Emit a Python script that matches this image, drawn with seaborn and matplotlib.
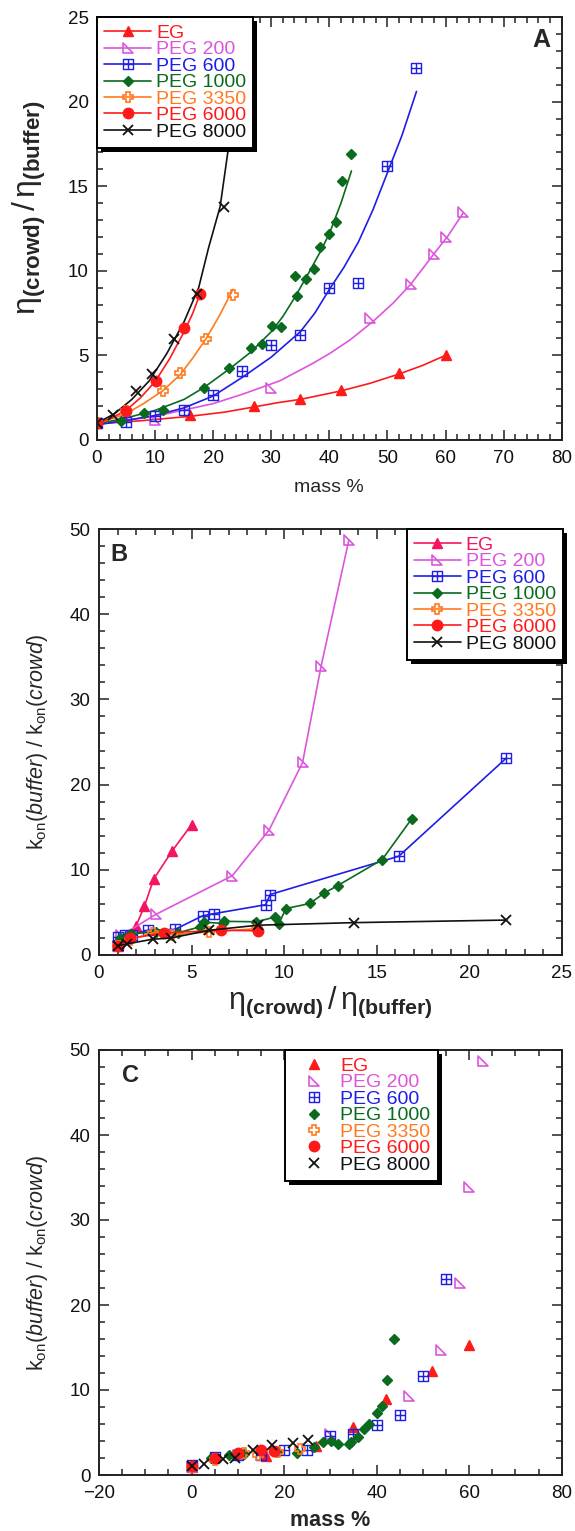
import matplotlib
matplotlib.use("Agg")
import matplotlib.pyplot as plt
import seaborn as sns
from matplotlib.path import Path
from matplotlib.lines import Line2D
from matplotlib.patches import Rectangle
from matplotlib.transforms import IdentityTransform
from matplotlib.ticker import MultipleLocator

# ---------------- data ----------------
names = ["EG", "PEG 200", "PEG 600", "PEG 1000", "PEG 3350", "PEG 6000", "PEG 8000"]

# mass %, relative viscosity, relative association rate
eg_mass = [0, 16, 27, 35, 42, 52, 60]
eg_eta = [1.0, 1.45, 2.0, 2.45, 2.95, 3.95, 5.0]
eg_kon = [1.0, 2.2, 3.4, 5.7, 8.9, 12.2, 15.3]

p200_mass = [0, 10, 30, 47, 54, 58, 60, 63]
p200_eta = [1.0, 1.2, 3.1, 7.2, 9.2, 11.0, 12.0, 13.5]
p200_kon = [1.0, 2.3, 4.8, 9.3, 14.7, 22.6, 33.9, 48.7]

p600_mass = [0, 5, 10, 15, 20, 25, 30, 35, 40, 45, 50, 55]
p600_eta = [1.0, 1.05, 1.4, 1.8, 2.65, 4.1, 5.6, 6.2, 9.0, 9.25, 16.2, 22.0]
p600_kon = [1.2, 2.15, 2.4, 2.4, 2.9, 3.0, 4.6, 4.85, 5.9, 7.1, 11.6, 23.1]

p1000_mass = [0, 4.1, 8.1, 11.4, 18.4, 22.8, 26.5, 28.4, 30.1, 31.7, 34.1, 34.4,
              36, 37.3, 38.4, 40, 41.2, 42.2, 43.8]
p1000_eta = [1.0, 1.15, 1.6, 1.75, 3.1, 4.25, 5.45, 5.7, 6.75, 6.7, 9.7, 8.5,
             9.5, 10.1, 11.4, 12.15, 12.9, 15.3, 16.9]
p1000_kon = [1.0, 2.0, 2.35, 2.5, 2.7, 2.6, 3.3, 3.85, 3.95, 3.7, 3.6, 3.9,
             4.45, 5.45, 6.05, 7.25, 8.15, 11.2, 16.0]

p3350_mass = [0, 5, 11.3, 14.3, 18.7, 23.4]
p3350_eta = [1.0, 1.7, 2.9, 3.95, 5.95, 8.55]
p3350_kon = [1.0, 1.8, 2.6, 2.4, 2.7, 3.1]

p6000_mass = [0, 5, 10.1, 15, 17.8]
p6000_eta = [1.0, 1.7, 3.5, 6.6, 8.6]
p6000_kon = [1.05, 1.95, 2.6, 2.9, 2.85]

p8000_mass = [0, 2.8, 6.8, 9.4, 13.2, 17.3, 21.9, 25.2]
p8000_eta = [1.0, 1.5, 2.9, 3.9, 5.95, 8.6, 13.8, 22.0]
p8000_kon = [1.1, 1.3, 1.85, 2.0, 2.9, 3.5, 3.8, 4.1]

# fitted viscosity curves (mass %, relative viscosity)
eg_fit_x = [0, 8, 16, 22, 27, 31, 35, 42, 47, 52, 56, 60]
eg_fit_y = [0.95, 1.15, 1.4, 1.65, 1.95, 2.2, 2.4, 2.9, 3.35, 3.9, 4.4, 5.0]
p200_fit_x = [0, 10, 20, 25, 31.5, 37, 40, 43.5, 47.5, 51, 54, 58, 60.5, 63]
p200_fit_y = [0.95, 1.4, 2.15, 2.7, 3.5, 4.5, 5.1, 5.9, 7.0, 8.1, 9.2, 11.0, 12.1, 13.4]
p600_fit_x = [0, 5, 10, 15, 20, 25, 30, 35, 37.5, 40, 42.5, 45, 47.5, 50, 52.5, 55]
p600_fit_y = [0.9, 1.15, 1.45, 1.9, 2.6, 3.7, 4.9, 6.4, 7.5, 8.9, 10.2, 11.7,
              13.6, 15.8, 18.0, 20.6]
p1000_fit_x = [0, 5, 10, 15, 18.4, 22.8, 26.5, 30, 32, 34, 36, 38.4, 40, 42, 43.8]
p1000_fit_y = [0.95, 1.3, 1.75, 2.4, 3.1, 4.2, 5.2, 6.4, 7.3, 8.4, 9.6, 11.1, 12.2,
               14.0, 15.9]
p3350_fit_x = [0, 5, 8, 11.3, 14.3, 16.5, 18.7, 21, 23.4]
p3350_fit_y = [0.95, 1.55, 2.15, 2.9, 3.85, 4.85, 5.95, 7.3, 8.9]
p6000_fit_x = [0, 2.5, 5, 7.5, 10, 12.5, 15, 16.5, 17.8]
p6000_fit_y = [0.95, 1.3, 1.75, 2.5, 3.45, 4.8, 6.4, 7.5, 8.7]
p8000_fit_x = [0, 3, 6, 9, 12, 15, 17.5, 19.2, 21.2, 22.6, 24, 25.3]
p8000_fit_y = [1.0, 1.55, 2.4, 3.5, 5.1, 7.0, 9.0, 11.35, 13.8, 17.2, 20.5, 24.5]

# ---------------- style ----------------
sns.set_theme(style="ticks")
plt.rcParams["font.family"] = ["Liberation Sans", "DejaVu Sans"]
plt.rcParams["mathtext.fontset"] = "custom"
plt.rcParams["mathtext.rm"] = "Liberation Sans"
plt.rcParams["mathtext.it"] = "Liberation Sans:italic"
plt.rcParams["mathtext.bf"] = "Liberation Sans:bold"
plt.rcParams["axes.edgecolor"] = "#222222"

right_tri = Path([(-1, 1), (-1, -1), (1, -1), (-1, 1)],
                 [Path.MOVETO, Path.LINETO, Path.LINETO, Path.CLOSEPOLY])
box_plus = Path([(-1, -1), (1, -1), (1, 1), (-1, 1), (-1, -1),
                 (0, -1), (0, 1), (-1, 0), (1, 0)],
                [Path.MOVETO, Path.LINETO, Path.LINETO, Path.LINETO, Path.CLOSEPOLY,
                 Path.MOVETO, Path.LINETO, Path.MOVETO, Path.LINETO])

RED = "#FF1A1A"
PINK = "#F5145F"
VIOLET = "#DD55DD"
BLUE = "#1E1EE6"
GREEN = "#0A6A1E"
ORANGE = "#FF7A1E"
BLACK = "#111111"

series = [
    dict(mass=eg_mass, eta=eg_eta, kon=eg_kon, fx=eg_fit_x, fy=eg_fit_y,
         color=RED, marker="^", ms=7.5, fill=True, mew=1.0),
    dict(mass=p200_mass, eta=p200_eta, kon=p200_kon, fx=p200_fit_x, fy=p200_fit_y,
         color=VIOLET, marker=right_tri, ms=7.5, fill=False, mew=1.2),
    dict(mass=p600_mass, eta=p600_eta, kon=p600_kon, fx=p600_fit_x, fy=p600_fit_y,
         color=BLUE, marker=box_plus, ms=6.5, fill=False, mew=1.0),
    dict(mass=p1000_mass, eta=p1000_eta, kon=p1000_kon, fx=p1000_fit_x, fy=p1000_fit_y,
         color=GREEN, marker="D", ms=5.5, fill=True, mew=1.0),
    dict(mass=p3350_mass, eta=p3350_eta, kon=p3350_kon, fx=p3350_fit_x, fy=p3350_fit_y,
         color=ORANGE, marker="P", ms=7.5, fill=False, mew=1.2),
    dict(mass=p6000_mass, eta=p6000_eta, kon=p6000_kon, fx=p6000_fit_x, fy=p6000_fit_y,
         color=RED, marker="o", ms=7.5, fill=True, mew=1.0),
    dict(mass=p8000_mass, eta=p8000_eta, kon=p8000_kon, fx=p8000_fit_x, fy=p8000_fit_y,
         color=BLACK, marker="x", ms=6.5, fill=True, mew=1.3),
]

fig = plt.figure(figsize=(5.75, 15.31), dpi=100)
W, H = 575.0, 1531.0


def add_axes_px(left, right, top, bottom):
    return fig.add_axes([left / W, 1 - bottom / H, (right - left) / W, (bottom - top) / H])


axA = add_axes_px(97, 561.7, 17, 440)
axB = add_axes_px(99, 561.7, 529, 955)
axC = add_axes_px(99, 561.7, 1050, 1475)

TICK_FS = 13.5


def style_axes(ax, xlim, ylim, xmaj, xmin, ymaj, ymin):
    ax.set_xlim(*xlim)
    ax.set_ylim(*ylim)
    ax.xaxis.set_major_locator(MultipleLocator(xmaj))
    ax.xaxis.set_minor_locator(MultipleLocator(xmin))
    ax.yaxis.set_major_locator(MultipleLocator(ymaj))
    ax.yaxis.set_minor_locator(MultipleLocator(ymin))
    ax.tick_params(which="both", direction="in", top=True, right=True,
                   color="#222222", width=1.1, labelsize=TICK_FS, labelcolor="#111111")
    ax.tick_params(which="major", length=7)
    ax.tick_params(which="minor", length=4)
    ax.tick_params(axis="x", which="major", pad=7)
    ax.tick_params(axis="y", which="major", pad=6)
    for sp in ax.spines.values():
        sp.set_linewidth(1.4)
        sp.set_visible(True)


def marker_kw(s, color=None):
    c = color or s["color"]
    return dict(marker=s["marker"], markersize=s["ms"], markeredgewidth=s["mew"],
                markeredgecolor=c, markerfacecolor=(c if s["fill"] else "none"))


# ---------------- panel A: viscosity vs mass % ----------------
for s in series:
    sns.lineplot(x=s["fx"], y=s["fy"], ax=axA, color=s["color"], lw=1.2,
                 estimator=None, sort=False)
for s in series:
    sns.lineplot(x=s["mass"], y=s["eta"], ax=axA, color=s["color"], linestyle="",
                 estimator=None, sort=False, **marker_kw(s))
style_axes(axA, (0, 80), (0, 25), 10, 2, 5, 1)
axA.set_xlabel("mass %", fontsize=14)
axA.xaxis.set_label_coords(0.5, -0.092)
axA.set_ylabel(r"$\mathrm{\eta}_{\mathbf{(crowd)}}\,/\,\mathrm{\eta}_{\mathbf{(buffer)}}$",
               fontsize=23)
axA.yaxis.set_label_coords(-0.105, 0.55)
axA.text(0.975, 0.945, "A", transform=axA.transAxes, ha="right", va="center",
         fontsize=18, fontweight="bold")

# ---------------- panel B: rate vs viscosity ----------------
b_colors = [PINK] + [s["color"] for s in series[1:]]
for s, c in zip(series, b_colors):
    sns.lineplot(x=s["eta"], y=s["kon"], ax=axB, color=c, lw=1.2,
                 estimator=None, sort=True, **marker_kw(s, c))
style_axes(axB, (0, 25), (0, 50), 5, 1, 10, 2)
axB.set_xlabel(r"$\mathrm{\eta}_{\mathbf{(crowd)}}\,/\,\mathrm{\eta}_{\mathbf{(buffer)}}$",
               fontsize=22)
axB.xaxis.set_label_coords(0.5, -0.07)
kon_label = r"$\mathrm{k_{on}}(\mathit{buffer})\ /\ \mathrm{k_{on}}(\mathit{crowd})$"
axB.set_ylabel(kon_label, fontsize=15.5)
axB.yaxis.set_label_coords(-0.106, 0.5)
axB.text(0.025, 0.94, "B", transform=axB.transAxes, ha="left", va="center",
         fontsize=17, fontweight="bold")

# ---------------- panel C: rate vs mass % ----------------
for s in series:
    sns.lineplot(x=s["mass"], y=s["kon"], ax=axC, color=s["color"], linestyle="",
                 estimator=None, sort=False, **marker_kw(s))
style_axes(axC, (-20, 80), (0, 50), 20, 5, 10, 2)
axC.set_xlabel("mass %", fontsize=15.5, fontweight="bold")
axC.xaxis.set_label_coords(0.5, -0.083)
axC.set_ylabel(kon_label, fontsize=15.5)
axC.yaxis.set_label_coords(-0.106, 0.5)
axC.text(0.05, 0.94, "C", transform=axC.transAxes, ha="left", va="center",
         fontsize=17, fontweight="bold")


# ---------------- legends ----------------
def make_legend(ax, colors, with_line, loc, anchor, handlelength):
    handles = []
    for s, c in zip(series, colors):
        handles.append(Line2D([], [], color=c, lw=(1.2 if with_line else 0),
                              **marker_kw(s, c)))
    leg = ax.legend(handles, names, loc=loc, bbox_to_anchor=anchor,
                    borderaxespad=0, frameon=True, fancybox=False, framealpha=1,
                    edgecolor="black", fontsize=14, labelspacing=-0.06,
                    handlelength=handlelength, handletextpad=0.25, borderpad=0.38,
                    labelcolor=colors)
    leg.get_frame().set_linewidth(1.4)
    leg.set_zorder(10)
    return leg


a_colors = [s["color"] for s in series]
legA = make_legend(axA, a_colors, True, "upper left", (0, 1), 2.4)
legB = make_legend(axB, b_colors, True, "upper right", (1.003, 1), 2.4)
legC = make_legend(axC, a_colors, False, "upper left", (0.403, 1), 2.2)

fig.canvas.draw()
renderer = fig.canvas.get_renderer()
for ax, leg in ((axA, legA), (axB, legB), (axC, legC)):
    bb = leg.get_window_extent(renderer)
    off = 4.0
    shadow = Rectangle((bb.x0 + off, bb.y0 - off), bb.width, bb.height,
                       transform=IdentityTransform(), facecolor="black",
                       edgecolor="none", zorder=9.9, clip_on=False)
    ax.add_artist(shadow)

fig.savefig("out.png", dpi=100)
